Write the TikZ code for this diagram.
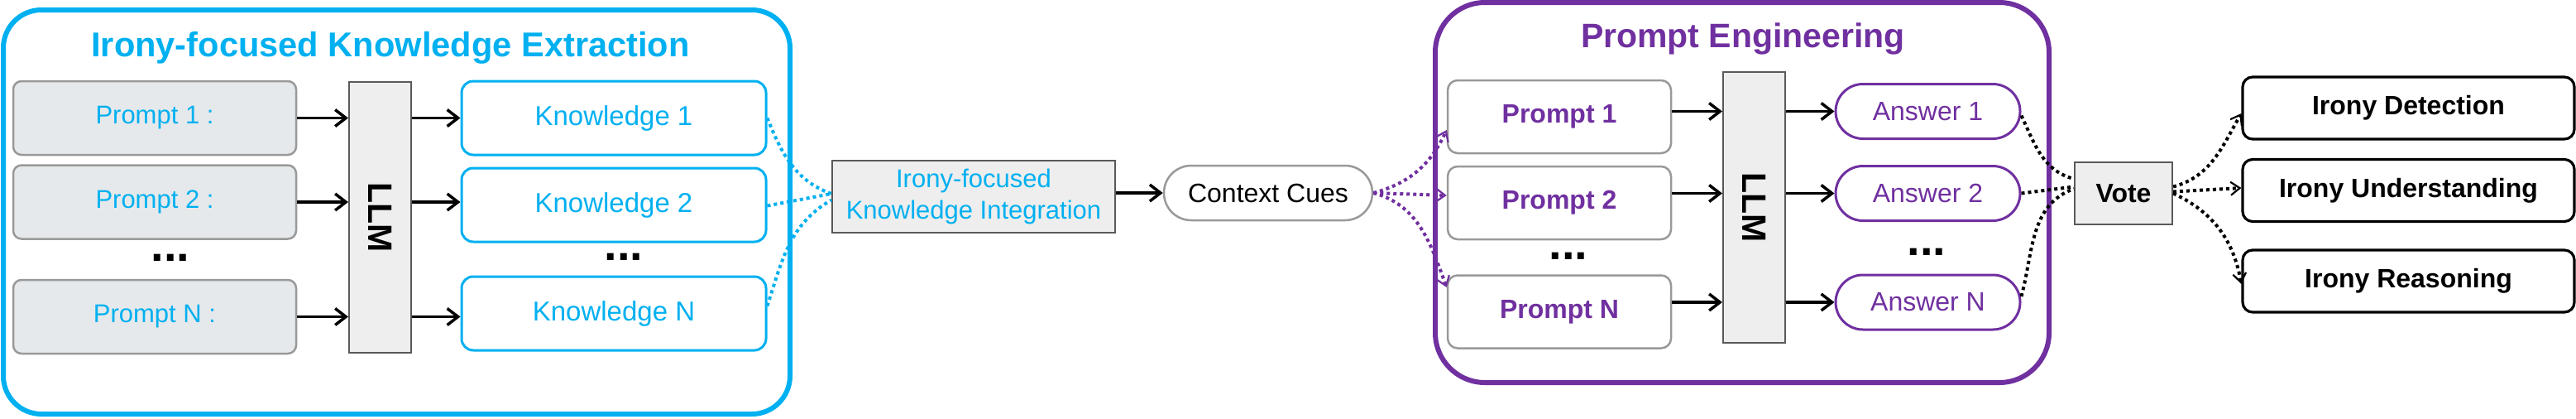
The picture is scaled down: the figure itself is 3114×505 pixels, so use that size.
\documentclass[tikz,border=0pt]{standalone}
\usepackage{fontspec}
\setmainfont{Liberation Sans}
\usetikzlibrary{arrows.meta,positioning}
\definecolor{cblue}{HTML}{00B0F0}
\definecolor{cpurple}{HTML}{7030A0}
\definecolor{pfill}{HTML}{E5E9EC}
\definecolor{gfill}{HTML}{EEEEEE}
\definecolor{gborder}{HTML}{999999}
\definecolor{dborder}{HTML}{595959}
\newcommand{\fs}[1]{\fontsize{#1}{1.2\dimexpr #1pt\relax}\selectfont}
\tikzset{
  panelblue/.style={draw=cblue, line width=3pt, rounded corners=23pt},
  panelpurple/.style={draw=cpurple, line width=3pt, rounded corners=30pt},
  promptgray/.style={draw=gborder, fill=pfill, line width=1.25pt, rounded corners=5pt,
    minimum width=171pt, minimum height=44.5pt, text=cblue, font=\fs{15.5}},
  knowbox/.style={draw=cblue, fill=white, line width=1.5pt, rounded corners=7pt,
    minimum width=184pt, minimum height=44.5pt, text=cblue, font=\fs{16.5}},
  llmbar/.style={draw=dborder, fill=gfill, line width=1pt,
    minimum width=37.5pt, minimum height=163.5pt},
  llmtext/.style={rotate=-90, font=\bfseries\fs{20.5}},
  graybox/.style={draw=dborder, fill=gfill, line width=1pt},
  pillgray/.style={draw=gborder, fill=white, line width=1.25pt, rounded corners=16.5pt,
    minimum width=126pt, minimum height=33pt, font=\fs{16}},
  promptwhite/.style={draw=gborder, fill=white, line width=1.25pt, rounded corners=6pt,
    minimum width=135pt, minimum height=44pt, text=cpurple, font=\bfseries\fs{16}},
  answerpill/.style={draw=cpurple, fill=white, line width=1.5pt, rounded corners=16.5pt,
    minimum width=111.5pt, minimum height=33pt, text=cpurple, font=\fs{16}},
  outbox/.style={draw=black, fill=white, line width=1.6pt, rounded corners=6pt,
    minimum width=200.5pt, minimum height=37.5pt, font=\bfseries\fs{16}},
  dotsnode/.style={font=\bfseries\fs{28}, inner sep=0pt},
  arr/.style={line width=1.75pt, -{Straight Barb[length=6.5pt,width=10pt,line width=1.75pt]}},
  dotline/.style={line width=2pt, dash pattern=on 2pt off 2pt},
  dotarr/.style={dotline, -{Straight Barb[length=5.5pt,width=8pt,line width=1.1pt]}},
}
\begin{document}
\begin{tikzpicture}[x=0.5pt, y=-0.5pt]
\useasboundingbox (0,0) rectangle (3114,505);

% ---------- left panel ----------
\draw[panelblue] (4,12) rectangle (955,500);
\node[text=cblue, font=\bfseries\fs{20.8}] (t1) at (472,58) {Irony-focused Knowledge Extraction};

\node[promptgray] (p1) at (187,142.5) {Prompt 1 :};
\node[promptgray] (p2) at (187,244) {Prompt 2 :};
\node[promptgray] (pn) at (187,382.5) {Prompt N :};
\node[dotsnode] (d1) at (206,311) {...};

\node[llmbar] (llm1) at (459.5,262.5) {};
\node[llmtext] at (llm1.center) {LLM};

\node[knowbox] (k1) at (742,142.5) {Knowledge 1};
\node[knowbox] (k2) at (742,247.5) {Knowledge 2};
\node[knowbox] (kn) at (742,378.5) {Knowledge N};
\node[dotsnode] (d2) at (754,310) {...};

\foreach \p/\k in {p1/k1,p2/k2,pn/kn}{
  \draw[arr] (\p.east) -- (\p.east -| llm1.west);
  \draw[arr] (\p.east -| llm1.east) -- (\p.east -| \k.west);
}

% ---------- integration ----------
\node[graybox, minimum width=171pt, minimum height=43.5pt, text=cblue, inner sep=1pt,
  font=\fontsize{15.5}{19}\selectfont, align=center] (int) at (1177,237.5)
  {Irony-focused\\Knowledge Integration};
\node[pillgray] (cc) at (1533,233) {Context Cues};
\draw[arr] (int.east |- cc.west) -- (cc.west);

\draw[dotline, cblue] ([yshift=0pt]k1.east) to[out=-68, in=160] ([yshift=1.75pt]int.west);
\draw[dotline, cblue] ([yshift=-0.5pt]k2.east) -- ([yshift=1.75pt]int.west);
\draw[dotline, cblue] ([yshift=4.5pt]kn.east) to[out=72, in=-150] ([yshift=-2pt]int.west);

% ---------- right panel ----------
\draw[panelpurple] (1735,3) rectangle (2477,462);
\node[text=cpurple, font=\bfseries\fs{20.5}] (t2) at (2107,47) {Prompt Engineering};

\node[promptwhite] (q1) at (1885,141) {Prompt 1};
\node[promptwhite] (q2) at (1885,245) {Prompt 2};
\node[promptwhite] (qn) at (1885,376.5) {Prompt N};
\node[dotsnode] (d3) at (1896,309) {...};

\node[llmbar] (llm2) at (2120.5,250.5) {};
\node[llmtext] at (llm2.center) {LLM};

\node[answerpill] (a1) at (2330.5,134.5) {Answer 1};
\node[answerpill] (a2) at (2330.5,233.5) {Answer 2};
\node[answerpill] (an) at (2330.5,365) {Answer N};
\node[dotsnode] (d4) at (2329,304) {...};

\foreach \q/\a in {q1/a1,q2/a2,qn/an}{
  \draw[arr] (\a.west -| \q.east) -- (\a.west -| llm2.west);
  \draw[arr] (\a.west -| llm2.east) -- (\a.west);
}

\draw[dotarr, cpurple] (cc.east) to[out=15, in=-115] ([yshift=-8pt]q1.west);
\draw[dotarr, cpurple] (cc.east) -- ([yshift=4.5pt]q2.west);
\draw[dotarr, cpurple] (cc.east) to[out=-15, in=110] ([yshift=14.75pt]qn.west);

% ---------- vote & outputs ----------
\node[graybox, minimum width=59pt, minimum height=37.5pt, font=\bfseries\fs{16}] (vote) at (2567,233.5) {Vote};

\draw[dotline] ([yshift=-2.5pt]a1.east) to[out=-65, in=165] ([yshift=8.75pt]vote.west);
\draw[dotline] (a2.east) -- ([yshift=4pt]vote.west);
\draw[dotline] ([yshift=3.5pt]an.east) to[out=75, in=-160] ([yshift=2.75pt]vote.west);

\node[outbox] (o1) at (2911.5,130.5) {Irony Detection};
\node[outbox] (o2) at (2911.5,230) {Irony Understanding};
\node[outbox] (o3) at (2911.5,339.5) {Irony Reasoning};

\draw[dotarr] ([yshift=4pt]vote.east) to[out=15, in=-120] ([yshift=-3.25pt]o1.west);
\draw[dotarr] ([yshift=1pt]vote.east) -- ([yshift=1.5pt]o2.west);
\draw[dotarr] (vote.east) to[out=-25, in=100] ([yshift=-1.75pt]o3.west);
\end{tikzpicture}
\end{document}
